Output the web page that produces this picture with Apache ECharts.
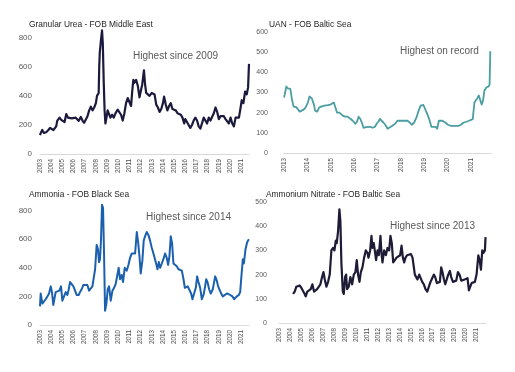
<!DOCTYPE html>
<html>
<head>
<meta charset="utf-8">
<script src="https://cdn.jsdelivr.net/npm/echarts@6/dist/echarts.min.js"></script>
<style>
html,body{margin:0;padding:0;background:#fff;}
#c{width:515px;height:372px;}
</style>
</head>
<body>
<div id="c"></div>
<script>
// ---- Data: [decimal year, USD/t] ----
const titles = ["Granular Urea - FOB Middle East", "UAN - FOB Baltic Sea", "Ammonia - FOB Black Sea", "Ammonium Nitrate - FOB Baltic Sea"];
const notes = ["Highest since 2009", "Highest on record", "Highest since 2014", "Highest since 2013"];

const urea = [
[2003.00,130],[2003.10,150],[2003.20,165],[2003.35,145],[2003.55,150],[2003.75,165],[2003.90,180],
[2004.05,180],[2004.20,165],[2004.30,155],[2004.45,190],[2004.55,230],[2004.75,250],[2004.90,235],
[2005.05,225],[2005.20,220],[2005.35,275],[2005.50,250],[2005.65,240],[2005.85,245],
[2006.00,238],[2006.20,250],[2006.45,228],[2006.65,255],[2006.80,230],[2006.95,215],
[2007.10,220],[2007.25,260],[2007.40,300],[2007.55,325],[2007.70,300],[2007.85,320],
[2008.00,350],[2008.10,400],[2008.20,390],[2008.25,420],[2008.30,600],[2008.35,700],[2008.45,780],[2008.55,850],[2008.62,760],[2008.70,500],[2008.78,300],[2008.85,210],[2008.95,250],
[2009.05,300],[2009.20,270],[2009.30,250],[2009.45,270],[2009.60,250],[2009.75,280],[2009.95,305],
[2010.10,310],[2010.25,270],[2010.40,230],[2010.55,280],[2010.70,350],[2010.85,385],
[2011.00,375],[2011.15,330],[2011.25,430],[2011.35,510],[2011.45,490],[2011.60,510],[2011.75,470],[2011.90,390],
[2012.00,400],[2012.15,480],[2012.30,575],[2012.40,480],[2012.50,420],[2012.65,430],[2012.80,400],
[2013.00,420],[2013.10,430],[2013.25,410],[2013.40,340],[2013.55,320],[2013.70,290],[2013.85,310],
[2014.00,350],[2014.10,395],[2014.25,340],[2014.40,300],[2014.55,330],[2014.70,350],[2014.85,310],
[2015.00,320],[2015.15,300],[2015.30,280],[2015.45,275],[2015.60,270],[2015.75,250],[2015.90,210],
[2016.00,240],[2016.15,220],[2016.30,200],[2016.45,180],[2016.60,200],[2016.75,230],[2016.90,250],
[2017.05,230],[2017.20,190],[2017.35,175],[2017.50,180],[2017.65,250],[2017.80,240],[2017.95,210],
[2018.10,250],[2018.25,230],[2018.40,220],[2018.55,280],[2018.70,320],[2018.85,290],
[2019.00,240],[2019.15,260],[2019.30,270],[2019.45,260],[2019.60,240],[2019.75,230],[2019.90,210],
[2020.05,250],[2020.20,210],[2020.35,190],[2020.50,250],[2020.65,240],[2020.80,250],[2020.95,320],
[2021.05,370],[2021.20,350],[2021.35,430],[2021.50,410],[2021.62,460],[2021.70,620]
];

const uan = [
[2013.00,275],[2013.03,290],[2013.10,330],[2013.17,320],[2013.27,318],[2013.35,260],[2013.41,230],[2013.52,228],[2013.60,225],[2013.67,205],[2013.74,200],[2013.84,215],[2013.92,225],
[2014.02,250],[2014.09,280],[2014.19,270],[2014.28,240],[2014.33,210],[2014.42,205],[2014.50,225],[2014.59,230],[2014.73,235],[2014.87,237],[2014.99,240],
[2015.04,238],[2015.13,250],[2015.21,250],[2015.27,200],[2015.37,200],[2015.44,200],[2015.51,185],[2015.61,180],[2015.72,180],[2015.84,170],[2015.94,160],
[2016.05,145],[2016.12,155],[2016.19,180],[2016.26,170],[2016.33,150],[2016.40,125],[2016.50,128],[2016.57,125],[2016.69,130],[2016.79,125],[2016.89,130],[2016.96,145],
[2017.03,155],[2017.11,170],[2017.17,160],[2017.26,150],[2017.33,140],[2017.43,120],[2017.50,125],[2017.60,133],[2017.68,135],[2017.75,145],[2017.85,160],[2017.96,160],
[2018.13,160],[2018.28,160],[2018.39,150],[2018.46,140],[2018.56,150],[2018.66,175],[2018.74,205],[2018.84,235],[2018.96,238],
[2019.03,230],[2019.10,200],[2019.17,180],[2019.23,160],[2019.30,130],[2019.38,122],[2019.48,130],[2019.55,120],[2019.62,160],[2019.77,160],[2019.91,150],
[2020.01,140],[2020.12,135],[2020.33,135],[2020.48,135],[2020.57,140],[2020.66,150],[2020.80,155],[2020.91,160],[2020.97,168],
[2021.07,168],[2021.14,250],[2021.26,270],[2021.33,285],[2021.40,280],[2021.45,240],[2021.51,260],[2021.57,310],[2021.65,325],[2021.75,330],[2021.79,340],[2021.82,505]
];

const ammonia = [
[2003.00,130],[2003.06,220],[2003.21,150],[2003.36,150],[2003.51,180],[2003.66,200],[2003.81,220],[2003.96,270],
[2004.07,230],[2004.19,140],[2004.28,130],[2004.40,230],[2004.55,240],[2004.73,240],[2004.88,270],
[2005.00,170],[2005.15,200],[2005.30,230],[2005.45,210],[2005.57,250],[2005.69,300],[2005.84,300],[2005.99,270],
[2006.13,270],[2006.28,210],[2006.46,210],[2006.58,230],[2006.73,250],[2006.88,280],
[2007.03,285],[2007.24,280],[2007.39,240],[2007.54,240],[2007.69,270],[2007.84,260],[2007.93,390],
[2008.07,560],[2008.19,530],[2008.28,440],[2008.37,460],[2008.46,600],[2008.55,840],[2008.64,820],[2008.73,500],[2008.82,100],[2008.94,150],
[2009.06,250],[2009.18,270],[2009.33,170],[2009.48,240],[2009.63,260],[2009.78,290],[2009.93,290],
[2010.04,400],[2010.16,320],[2010.31,350],[2010.43,300],[2010.58,400],[2010.76,380],[2010.91,420],
[2011.06,470],[2011.21,500],[2011.36,490],[2011.51,500],[2011.66,650],[2011.78,580],[2011.90,480],
[2012.01,360],[2012.16,450],[2012.28,590],[2012.40,620],[2012.55,650],[2012.70,630],[2012.85,590],
[2013.00,540],[2013.15,500],[2013.30,490],[2013.39,430],[2013.51,390],[2013.63,440],[2013.75,400],[2013.90,430],
[2014.04,460],[2014.19,500],[2014.34,470],[2014.46,420],[2014.58,480],[2014.70,620],[2014.82,570],[2014.94,430],
[2015.09,420],[2015.24,410],[2015.39,390],[2015.54,390],[2015.69,380],[2015.84,320],[2015.96,260],
[2016.07,260],[2016.22,270],[2016.37,260],[2016.52,220],[2016.64,180],[2016.79,170],[2016.94,260],
[2017.06,340],[2017.18,300],[2017.33,260],[2017.48,180],[2017.63,210],[2017.75,260],[2017.87,320],[2017.99,300],
[2018.13,250],[2018.28,220],[2018.46,250],[2018.58,300],[2018.67,340],[2018.82,310],[2018.94,270],
[2019.06,260],[2019.21,220],[2019.36,200],[2019.51,210],[2019.72,220],[2019.90,215],
[2020.07,220],[2020.22,200],[2020.37,180],[2020.49,180],[2020.61,200],[2020.79,210],[2020.91,230],
[2021.03,350],[2021.15,460],[2021.24,430],[2021.39,530],[2021.54,580],[2021.63,590],[2021.69,600]
];

const nitrate = [
[2004.28,120],[2004.43,130],[2004.58,150],[2004.73,145],[2004.88,155],
[2005.04,145],[2005.19,150],[2005.34,120],[2005.43,110],[2005.58,130],[2005.74,130],[2005.89,140],
[2006.04,160],[2006.19,130],[2006.31,125],[2006.47,140],[2006.65,140],[2006.77,160],[2006.92,190],
[2007.05,210],[2007.17,180],[2007.32,150],[2007.47,170],[2007.62,200],[2007.77,300],[2007.92,310],
[2008.05,300],[2008.17,340],[2008.26,330],[2008.38,380],[2008.50,470],[2008.59,420],[2008.68,250],[2008.81,130],[2008.90,120],
[2009.02,190],[2009.11,200],[2009.20,140],[2009.35,150],[2009.50,190],[2009.66,160],[2009.81,200],[2009.96,210],
[2010.08,260],[2010.20,200],[2010.33,170],[2010.45,210],[2010.60,230],[2010.75,270],[2010.90,300],
[2011.05,290],[2011.15,270],[2011.30,300],[2011.42,360],[2011.51,310],[2011.63,330],[2011.72,300],[2011.84,260],[2011.97,300],
[2012.09,280],[2012.24,360],[2012.33,290],[2012.42,250],[2012.57,300],[2012.73,280],[2012.88,310],
[2013.03,300],[2013.15,360],[2013.27,330],[2013.40,250],[2013.55,260],[2013.70,270],[2013.85,270],
[2014.03,280],[2014.16,320],[2014.28,270],[2014.40,250],[2014.52,270],[2014.67,280],[2014.82,275],
[2015.01,285],[2015.16,270],[2015.25,240],[2015.37,200],[2015.49,200],[2015.61,180],[2015.77,200],[2015.89,195],
[2016.04,170],[2016.19,160],[2016.34,140],[2016.50,130],[2016.65,150],[2016.80,170],[2016.95,185],
[2017.10,200],[2017.22,190],[2017.38,165],[2017.53,160],[2017.65,170],[2017.77,230],[2017.89,210],
[2018.02,180],[2018.14,160],[2018.26,155],[2018.41,200],[2018.56,215],[2018.68,190],[2018.84,170],[2018.99,170],
[2019.14,175],[2019.29,210],[2019.44,200],[2019.60,175],[2019.75,175],[2019.90,180],
[2020.05,185],[2020.17,185],[2020.29,135],[2020.42,140],[2020.54,165],[2020.69,170],[2020.84,170],[2020.99,200],
[2021.15,280],[2021.27,260],[2021.39,220],[2021.51,300],[2021.63,290],[2021.75,300],[2021.81,355]
];

// ---- Chart ----
const FONT = '"Liberation Sans", Arial, sans-serif';
const chart = echarts.init(document.getElementById('c'), null, {renderer: 'canvas'});

const grids = [
  {left: 40,  top: 29,  width: 209, height: 125},
  {left: 284, top: 32,  width: 207, height: 121},
  {left: 40,  top: 202, width: 209, height: 123},
  {left: 279, top: 202, width: 207, height: 121}
];
const xRange = [[2003, 2021.7], [2013, 2021.85], [2003, 2021.7], [2003, 2021.85]];
const yCfg = [
  {max: 860, interval: 200, fs: 8, margin: 8},
  {max: 600, interval: 100, fs: 7, margin: 16},
  {max: 860, interval: 200, fs: 8, margin: 8},
  {max: 500, interval: 100, fs: 7, margin: 12}
];
const colors = ['#1b1a3d', '#4a9ea2', '#1b60ae', '#1e1b36'];
const widths = [2.2, 1.8, 2, 2.2];
const seriesData = [urea, uan, ammonia, nitrate];

const xAxes = grids.map((g, i) => ({
  type: 'value', gridIndex: i, min: xRange[i][0], max: xRange[i][1], interval: 1,
  axisLine: {show: true, lineStyle: {color: '#d9d9d9', width: 1}},
  axisTick: {show: false},
  splitLine: {show: false},
  axisLabel: {
    rotate: 90, margin: 5, fontSize: 6.3, color: '#4d4d4d', fontFamily: FONT,
    formatter: v => Number.isInteger(v) ? String(v) : ''
  }
}));
const yAxes = grids.map((g, i) => ({
  type: 'value', gridIndex: i, min: 0, max: yCfg[i].max, interval: yCfg[i].interval,
  axisLine: {show: false}, axisTick: {show: false}, splitLine: {show: false},
  axisLabel: {
    fontSize: yCfg[i].fs, color: '#595959', fontFamily: FONT, margin: yCfg[i].margin,
    formatter: v => (v % yCfg[i].interval === 0) ? String(v) : ''
  }
}));
const series = seriesData.map((d, i) => ({
  type: 'line', xAxisIndex: i, yAxisIndex: i, data: d,
  showSymbol: false, symbol: 'none', animation: false,
  lineStyle: {color: colors[i], width: widths[i], join: 'round'}
}));

const titlePos = [[29, 25], [269, 25], [29, 195], [266, 195]];
const notePos = [[133, 56], [400, 51], [146, 217], [390, 226]];
const graphics = [];
titles.forEach((t, i) => graphics.push({
  type: 'text', x: titlePos[i][0], y: titlePos[i][1], z: 10,
  style: {text: t, fill: '#1f1f1f', font: '8.4px ' + FONT, textVerticalAlign: 'middle', verticalAlign: 'middle'}
}));
notes.forEach((t, i) => graphics.push({
  type: 'text', x: notePos[i][0], y: notePos[i][1], z: 10,
  style: {text: t, fill: '#595959', font: '10px ' + FONT, textVerticalAlign: 'middle', verticalAlign: 'middle'}
}));

chart.setOption({
  animation: false,
  backgroundColor: '#ffffff',
  grid: grids,
  xAxis: xAxes,
  yAxis: yAxes,
  series: series,
  graphic: graphics
});
</script>
</body>
</html>
